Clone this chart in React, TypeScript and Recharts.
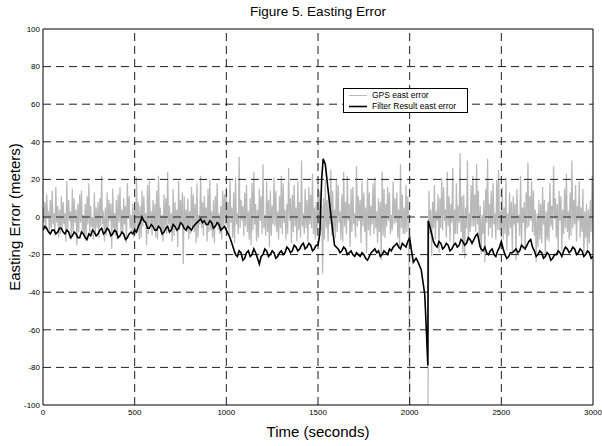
import React from "react";
import { LineChart, Line, XAxis, YAxis, ReferenceLine, Legend } from "recharts";

const FONT = '"Liberation Sans", Arial, Helvetica, sans-serif';

const xTicks = [0, 500, 1000, 1500, 2000, 2500, 3000];
const yTicks = [-100, -80, -60, -40, -20, 0, 20, 40, 60, 80, 100];

// GPS east error, sampled every 5 s (0 .. 1995 s), one row = 100 s
const gpsStep = 5;
const gpsBeforeOutage = [
  5, -3, 8, -7, 12, -1, 3, -9, 9, -6, 14, -4, 2, -10, 16, -3, 6, -11, 4, -9,
  11, -6, 8, -4, 2, -13, 19, -7, 9, -2, 3, -12, 15, -8, 10, -3, 4, -15, 7, -8,
  12, -3, 14, -9, 1, -10, 7, -13, 11, -4, 18, -9, 6, -5, 0, -12, 13, -8, 5, -6,
  8, -11, 10, -5, 22, -4, 3, -13, 5, -10, 13, -7, 9, -2, 7, -17, 15, -6, 2, -10,
  9, -12, 12, -3, 16, -8, 4, -9, 10, -4, 6, -14, 18, -1, 11, -6, 1, -8, 7, -11,
  4, -9, 21, -6, 8, -12, 6, -11, 14, -5, 11, -3, 2, -15, 17, -9, 19, -4, 3, -10,
  9, -5, 7, -11, 14, -12, 22, -6, 5, -8, 1, -13, 12, -6, 10, -9, 24, -4, 6, -7,
  2, -13, 15, -10, 8, -5, 4, -16, 19, -7, 9, -3, 13, -25, 11, -6, 4, -8, 10, -12,
  3, -9, 16, -5, 12, -8, 7, -14, 18, -11, 1, -4, 22, -6, 8, -10, 11, -2, 5, -13,
  15, -8, 20, -7, 3, -11, 9, -14, 11, -3, 18, -7, 2, -9, 6, -12, 14, -5, 12, -4,
  16, -6, 8, -10, 20, -3, 5, -11, 13, -14, 21, -4, 2, -9, 32, -6, 9, -2, 6, -10,
  13, -5, 17, -8, 3, -12, 10, -15, 18, -7, 24, -4, 7, -13, 4, -11, 15, -2, 11, -9,
  28, -6, 1, -10, 19, -8, 9, -16, 14, -10, 6, -4, 21, -5, 14, -8, 3, -12, 11, -6,
  22, -9, 18, -3, 4, -12, 7, -9, 26, -2, 10, -14, 12, -8, 17, -5, 5, -13, 19, -7,
  8, -11, 30, -5, 2, -9, 15, -6, 9, -13, 16, -4, 12, -6, 23, -9, 5, -12, 8, -10,
  18, -4, 14, -7, 6, -30, 10, -12, 20, -6, 9, -13, 11, -4, 25, -10, 14, -7, 4, -11,
  20, -8, 17, -3, 3, -12, 12, -13, 24, -5, 8, -9, 22, -2, 7, -16, 15, -8, 16, -4,
  2, -11, 27, -5, 11, -2, 9, -14, 19, -5, 13, -8, 5, -19, 21, -7, 13, -10, 6, -4,
  18, -9, 21, -6, 3, -14, 10, -8, 8, -23, 24, -10, 15, -11, 7, -5, 16, -2, 13, -9,
  1, -7, 19, -4, 10, -3, 13, -11, 4, -16, 28, -6, 12, -9, 5, -9, 17, -8, 11, -3,
];

// GPS outage: signal drops off the bottom of the plot
const gpsOutage: [number, number][] = [
  [2000, -100],
  [2100, -100],
];

// GPS east error after the outage, every 5 s (2105 .. 3000 s)
const gpsAfterStart = 2105;
const gpsAfterOutage = [
  14, -9, 4, -21, 8, -6, 17, -12, 3, -2, 12, -19, 10, -6, 21, -7, 16, -2, 4, -11,
  24, -5, 11, -13, 7, -3, 26, -15, 4, -9, 18, -9, 6, -3, 34, -8, 11, -19, 12, -22,
  5, -6, 30, -13, 2, -8, 17, -5, 22, -5, 12, -8, 28, -4, 14, -16, 6, -20, 1, -9,
  9, -24, 15, -3, 31, -10, 7, -6, 14, -11, 18, -4, 2, -12, 20, -7, 25, -7, 3, -11,
  16, -12, 5, -9, 21, -18, 2, -10, 13, -6, 8, -19, 11, -4, 7, -23, 15, -3, 1, -10,
  22, -15, 5, -3, 8, -17, 13, -6, 29, -5, 11, -2, 19, -8, 14, -10, 4, -24, 2, -16,
  9, -12, 7, -14, 16, -4, 9, -21, 3, -12, 8, -13, 18, -5, 6, -7, 27, -1, 10, -11,
  7, -20, 14, -2, 11, -18, 4, -9, 15, -6, 23, -8, 3, -12, 13, -10, 30, -6, 9, -4,
  17, -13, 6, -2, 19, -11, 5, -8, 15, -21, 3, -11, 7, -17, 4, -14, 9, -8, 22, -12,
];

// Filter result east error [time, error]
const filterPoints: [number, number][] = [
  [0, -7], [10, -5], [20, -6], [30, -8], [40, -9], [50, -7], [60, -7], [70, -9],
  [80, -8], [90, -6], [100, -6], [110, -8], [120, -9], [130, -7], [140, -8],
  [150, -11], [160, -10], [170, -8], [180, -9], [190, -11], [200, -11], [210, -8],
  [220, -9], [230, -11], [240, -12], [250, -9], [260, -10], [270, -7], [280, -8],
  [290, -10], [300, -9], [310, -7], [320, -6], [330, -9], [340, -8], [350, -6],
  [360, -7], [370, -10], [380, -9], [390, -7], [400, -8], [410, -11], [420, -10],
  [430, -8], [440, -9], [450, -12], [460, -11], [470, -9], [480, -8], [490, -9],
  [500, -7], [510, -8], [520, -5], [530, -3], [540, 0], [550, -2], [560, -3],
  [570, -6], [580, -6], [590, -4], [600, -5], [610, -7], [620, -7], [630, -5],
  [640, -6], [650, -9], [660, -8], [670, -6], [680, -5], [690, -8], [700, -7],
  [710, -4], [720, -5], [730, -7], [740, -6], [750, -3], [760, -4], [770, -6],
  [780, -7], [790, -5], [800, -6], [810, -7], [820, -5], [830, -4], [840, -3],
  [850, -2], [860, -1], [870, -3], [880, -2], [890, -4], [900, -4], [910, -2],
  [920, -3], [930, -6], [940, -5], [950, -3], [960, -4], [970, -7], [980, -6],
  [990, -5], [1000, -7], [1010, -9], [1020, -11], [1030, -14], [1040, -17],
  [1050, -20], [1060, -21], [1070, -18], [1080, -19], [1090, -23], [1100, -22],
  [1110, -19], [1120, -18], [1130, -21], [1140, -20], [1150, -17], [1160, -19],
  [1170, -22], [1180, -25], [1190, -21], [1200, -20], [1210, -17], [1220, -18],
  [1230, -21], [1240, -20], [1250, -18], [1260, -19], [1270, -22], [1280, -21],
  [1290, -19], [1300, -18], [1310, -20], [1320, -19], [1330, -16], [1340, -17],
  [1350, -19], [1360, -18], [1370, -15], [1380, -16], [1390, -18], [1400, -17],
  [1410, -15], [1420, -14], [1430, -17], [1440, -16], [1450, -14], [1460, -15],
  [1470, -18], [1480, -17], [1490, -15], [1500, -15], [1510, -9], [1520, 20],
  [1528, 31], [1540, 28], [1560, 10], [1575, -3], [1590, -15], [1600, -16],
  [1610, -17], [1620, -19], [1630, -18], [1640, -16], [1650, -17], [1660, -20],
  [1670, -19], [1680, -18], [1690, -20], [1700, -21], [1710, -19], [1720, -20],
  [1730, -21], [1740, -19], [1750, -20], [1760, -22], [1770, -23], [1780, -21],
  [1790, -19], [1800, -18], [1810, -17], [1820, -19], [1830, -18], [1840, -21],
  [1850, -20], [1860, -18], [1870, -19], [1880, -20], [1890, -17], [1900, -18],
  [1910, -16], [1920, -15], [1930, -14], [1940, -16], [1950, -17], [1960, -14],
  [1970, -15], [1980, -16], [1990, -13], [2000, -11], [2010, -18], [2020, -24],
  [2035, -22], [2046, -24], [2063, -28], [2082, -41], [2090, -58], [2099, -79],
  [2101, -2], [2110, -5], [2120, -9], [2130, -13], [2140, -15], [2150, -16],
  [2160, -13], [2170, -14], [2180, -17], [2190, -16], [2200, -14], [2210, -15],
  [2220, -18], [2230, -17], [2240, -15], [2250, -14], [2260, -16], [2270, -15],
  [2280, -12], [2290, -13], [2300, -15], [2310, -14], [2320, -11], [2330, -12],
  [2340, -14], [2350, -12], [2360, -10], [2370, -9], [2385, -16], [2390, -17],
  [2400, -18], [2410, -16], [2420, -19], [2430, -20], [2440, -18], [2450, -17],
  [2460, -20], [2470, -21], [2480, -18], [2490, -16], [2500, -13], [2510, -17],
  [2520, -20], [2530, -22], [2540, -21], [2550, -19], [2560, -19], [2570, -18],
  [2580, -17], [2590, -19], [2600, -18], [2610, -15], [2620, -16], [2630, -17],
  [2640, -15], [2650, -13], [2660, -12], [2670, -16], [2680, -18], [2690, -21],
  [2700, -20], [2710, -18], [2720, -19], [2730, -22], [2740, -21], [2750, -19],
  [2760, -20], [2770, -23], [2780, -22], [2790, -20], [2800, -20], [2810, -18],
  [2820, -19], [2830, -21], [2840, -18], [2850, -16], [2860, -17], [2870, -19],
  [2880, -18], [2890, -16], [2900, -17], [2910, -20], [2920, -19], [2930, -17],
  [2940, -18], [2950, -21], [2960, -20], [2970, -18], [2980, -19], [2990, -22],
  [3000, -21],
];

const legendOrder = ["GPS east error", "Filter Result east error"];

const gpsData = [
  ...gpsBeforeOutage.map((v, i) => ({ t: i * gpsStep, v })),
  ...gpsOutage.map(([t, v]) => ({ t, v })),
  ...gpsAfterOutage.map((v, i) => ({ t: gpsAfterStart + i * gpsStep, v })),
];
const filterData = filterPoints.map(([t, v]) => ({ t, v }));

const GPS_COLOR = "#b9b9b9";
const GRID_COLOR = "#1e1e1e";

const renderLegend = (props: any) => {
  const items = [...(props.payload || [])].sort(
    (a: any, b: any) => legendOrder.indexOf(a.value) - legendOrder.indexOf(b.value)
  );
  return (
    <div
      style={{
        border: "1px solid #000",
        background: "#fff",
        boxSizing: "border-box",
        width: 125,
        height: 25,
        padding: "1px 0 0 4px",
        fontFamily: FONT,
        fontSize: 8.5,
        lineHeight: "11px",
        color: "#000",
      }}
    >
      {items.map((item: any, i: number) => (
        <div key={i} style={{ display: "flex", alignItems: "center", whiteSpace: "nowrap" }}>
          <svg width={20} height={11} style={{ marginRight: 4 }}>
            <line x1={1} x2={19} y1={5.5} y2={5.5} stroke={item.color} strokeWidth={i === 0 ? 1 : 1.6} />
          </svg>
          <span>{item.value}</span>
        </div>
      ))}
    </div>
  );
};

export default function App() {
  return (
    <div style={{ position: "absolute", left: 0, top: 0, width: 602, height: 446, background: "#fff" }}>
      <div
        style={{
          position: "absolute",
          left: 43,
          width: 550,
          top: 4,
          textAlign: "center",
          fontFamily: FONT,
          fontSize: 13.5,
          color: "#000",
        }}
      >
        Figure 5. Easting Error
      </div>
      <LineChart width={602} height={446} margin={{ top: 29, right: 9, bottom: 0, left: 0 }}>
        <XAxis
          type="number"
          dataKey="t"
          domain={[0, 3000]}
          ticks={xTicks}
          interval={0}
          height={41}
          tickLine={false}
          tickSize={3}
          tickMargin={1}
          axisLine={{ stroke: "#000" }}
          tick={{ fontSize: 8, fill: "#000", fontFamily: FONT }}
          allowDataOverflow
          label={{ value: "Time (seconds)", position: "insideBottom", offset: 9, style: { fontSize: 15, fill: "#000", fontFamily: FONT } }}
        />
        <YAxis
          type="number"
          domain={[-100, 100]}
          ticks={yTicks}
          interval={0}
          width={43}
          tickLine={false}
          tickSize={3}
          tickMargin={0}
          axisLine={{ stroke: "#000" }}
          tick={{ fontSize: 8, fill: "#000", fontFamily: FONT }}
          allowDataOverflow
          label={{ value: "Easting Error (meters)", angle: -90, position: "insideLeft", offset: 15, style: { textAnchor: "middle", fontSize: 15, fill: "#000", fontFamily: FONT } }}
        />
        <Line
          data={gpsData}
          dataKey="v"
          name="GPS east error"
          type="linear"
          stroke={GPS_COLOR}
          strokeWidth={1.25}
          dot={false}
          activeDot={false}
          isAnimationActive={false}
        />
        {xTicks.slice(1, -1).map((x) => (
          <ReferenceLine key={"gx" + x} x={x} stroke={GRID_COLOR} strokeDasharray="8 5" />
        ))}
        {yTicks.slice(1, -1).map((y) => (
          <ReferenceLine key={"gy" + y} y={y} stroke={GRID_COLOR} strokeDasharray="8 5" />
        ))}
        <ReferenceLine y={100} stroke="#000" />
        <ReferenceLine x={3000} stroke="#000" />
        <Line
          data={filterData}
          dataKey="v"
          name="Filter Result east error"
          type="linear"
          stroke="#000"
          strokeWidth={1.6}
          dot={false}
          activeDot={false}
          isAnimationActive={false}
        />
        <Legend
          layout="horizontal"
          verticalAlign="middle"
          align="center"
          content={renderLegend}
          wrapperStyle={{ left: 343, top: 88, width: 125, height: 25 }}
        />
      </LineChart>
    </div>
  );
}
